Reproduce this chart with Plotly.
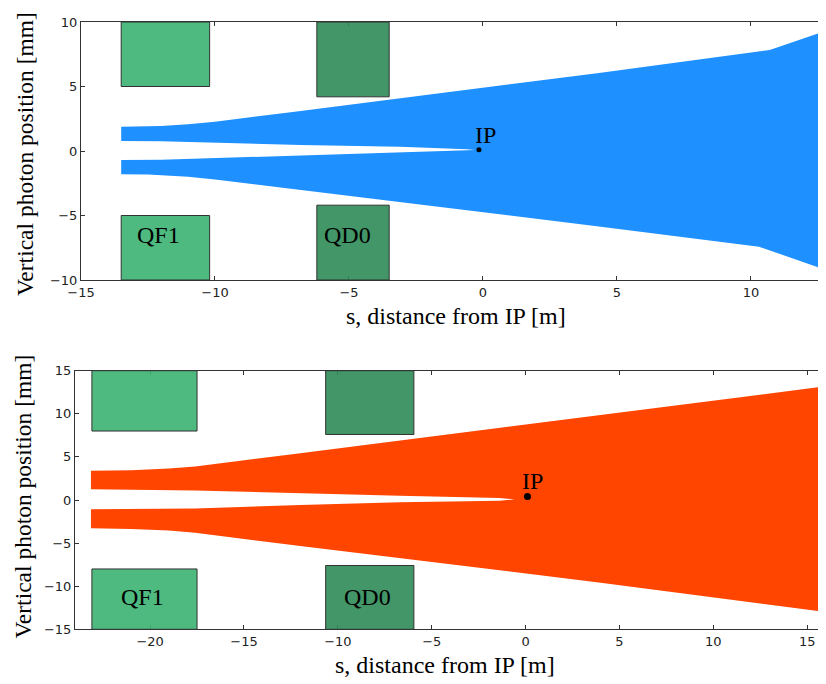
import plotly.graph_objects as go

# ---------------- data: top panel (blue) ----------------
top_s_upper_outer = [-13.5, -12.5, -12.0, -11.0, -10.0, -6.8, 0.0, 4.4, 10.7, 12.8]
top_y_upper_outer = [1.88, 1.90, 1.94, 2.08, 2.27, 3.10, 4.90, 6.07, 7.83, 9.33]
top_s_lower_outer = [-13.5, -12.5, -12.0, -11.0, -10.0, -6.8, 0.0, 4.4, 10.3, 12.8]
top_y_lower_outer = [-1.81, -1.83, -1.86, -2.00, -2.20, -2.97, -4.74, -5.87, -7.42, -9.22]
top_s_inner = [-13.5, -12.0, -10.0, -6.8, -3.1, -0.6, -0.3]
top_y_upper_inner = [0.78, 0.76, 0.68, 0.47, 0.33, 0.13, 0.07]
top_y_lower_inner = [-0.70, -0.68, -0.55, -0.33, -0.13, 0.02, 0.06]

# ---------------- data: bottom panel (red) ----------------
bot_s_outer = [-23.15, -21.0, -19.0, -17.6, -12.0, 4.0, 16.0]
bot_y_upper_outer = [3.40, 3.45, 3.65, 3.90, 5.41, 9.86, 13.2]
bot_y_lower_outer = [-3.29, -3.35, -3.55, -3.79, -5.34, -9.59, -13.0]
bot_s_inner = [-23.15, -17.6, -12.0, -6.7, -1.4, -0.57]
bot_y_upper_inner = [1.24, 1.10, 0.77, 0.50, 0.23, 0.08]
bot_y_lower_inner = [-1.08, -1.00, -0.58, -0.27, -0.08, 0.08]

# magnets: (name, s_start, s_end, aperture) per panel
top_magnets = [("QF1", -13.5, -10.2, 5.0), ("QD0", -6.2, -3.5, 4.2)]
bot_magnets = [("QF1", -23.1, -17.5, 8.0), ("QD0", -10.65, -5.95, 7.6)]
top_label_pos = [(-12.1, -6.5), (-5.05, -6.5)]
bot_label_pos = [(-20.4, -11.2), (-8.4, -11.2)]
top_ip = (-0.15, 0.10)
bot_ip = (0.10, 0.40)
top_ip_text = (0.1, 1.25)
bot_ip_text = (0.35, 2.25)

top_xrange = [-15, 12.8]
top_yrange = [-10, 10]
bot_xrange = [-24, 16]
bot_yrange = [-15, 15]
top_xticks = [-15, -10, -5, 0, 5, 10]
top_yticks = [-10, -5, 0, 5, 10]
bot_xticks = [-20, -15, -10, -5, 0, 5, 10, 15]
bot_yticks = [-15, -10, -5, 0, 5, 10, 15]

magnet_colors = {"QF1": "rgba(60,179,113,0.9)", "QD0": "rgba(46,139,87,0.9)"}

# the page body adds an 8px offset; size the figure so it fills the 826x684 window
OFF = 8
W, H = 826 - OFF, 684 - OFF


def px(x):
    return (x - OFF) / W


def py(y):
    return 1 - (y - OFF) / H


def polygon(s_uo, y_uo, s_lo, y_lo, s_in, y_ui, y_li):
    xs = list(s_uo) + list(reversed(s_lo)) + list(s_in) + list(reversed(s_in))
    ys = list(y_uo) + list(reversed(y_lo)) + list(y_li) + list(reversed(y_ui))
    return xs, ys


fig = go.Figure()

tx, ty = polygon(top_s_upper_outer, top_y_upper_outer, top_s_lower_outer,
                 top_y_lower_outer, top_s_inner, top_y_upper_inner, top_y_lower_inner)
fig.add_trace(go.Scatter(x=tx, y=ty, fill="toself", fillcolor="#1E90FF",
                         mode="lines", line=dict(width=0, color="#1E90FF"),
                         xaxis="x", yaxis="y", showlegend=False, hoverinfo="skip"))
bx, by = polygon(bot_s_outer, bot_y_upper_outer, bot_s_outer,
                 bot_y_lower_outer, bot_s_inner, bot_y_upper_inner, bot_y_lower_inner)
fig.add_trace(go.Scatter(x=bx, y=by, fill="toself", fillcolor="#FF4500",
                         mode="lines", line=dict(width=0, color="#FF4500"),
                         xaxis="x2", yaxis="y2", showlegend=False, hoverinfo="skip"))

fig.add_trace(go.Scatter(x=[top_ip[0]], y=[top_ip[1]], mode="markers",
                         marker=dict(color="black", size=5), xaxis="x", yaxis="y",
                         showlegend=False))
fig.add_trace(go.Scatter(x=[bot_ip[0]], y=[bot_ip[1]], mode="markers",
                         marker=dict(color="black", size=7), xaxis="x2", yaxis="y2",
                         showlegend=False))

shapes = []
annotations = []
serif = dict(family="Liberation Serif", size=24, color="black")
ctr = dict(xanchor="center", yanchor="middle", showarrow=False, font=serif)
ytitle = dict(xanchor="center", yanchor="middle", showarrow=False,
              font=dict(family="Liberation Serif", size=23.5, color="black"))

for mags, labels, yr, xr, yr_ref in [(top_magnets, top_label_pos, top_yrange, "x", "y"),
                                     (bot_magnets, bot_label_pos, bot_yrange, "x2", "y2")]:
    for (name, s0, s1, ap), (lx, ly) in zip(mags, labels):
        for (y0, y1) in [(ap, yr[1]), (yr[0], -ap)]:
            shapes.append(dict(type="rect", xref=xr, yref=yr_ref, x0=s0, x1=s1, y0=y0, y1=y1,
                               fillcolor=magnet_colors[name],
                               line=dict(color="#333333", width=1), layer="above"))
        annotations.append(dict(x=lx, y=ly, xref=xr, yref=yr_ref, text=name, **ctr))

annotations.append(dict(x=top_ip_text[0], y=top_ip_text[1], xref="x", yref="y", text="IP", **ctr))
annotations.append(dict(x=bot_ip_text[0], y=bot_ip_text[1], xref="x2", yref="y2", text="IP", **ctr))

# axis titles (paper coordinates)
annotations += [
    dict(x=px(25), y=py(154), xref="paper", yref="paper", textangle=-90,
         text="Vertical photon position [mm]", **ytitle),
    dict(x=px(22.5), y=py(497), xref="paper", yref="paper", textangle=-90,
         text="Vertical photon position [mm]", **ytitle),
    dict(x=px(456), y=py(316), xref="paper", yref="paper",
         text="s, distance from IP [m]", **ctr),
    dict(x=px(445), y=py(665), xref="paper", yref="paper",
         text="s, distance from IP [m]", **ctr),
]

tickfont = dict(family="DejaVu Sans", size=13, color="#222222")
axis_common = dict(showline=True, linecolor="#333333", linewidth=1, ticks="inside",
                   ticklen=4, tickwidth=1, tickcolor="#333333", showgrid=False,
                   zeroline=False, tickfont=tickfont, automargin=False)

fig.update_layout(
    width=W, height=H, autosize=False,
    margin=dict(l=0, r=0, t=0, b=0, pad=0, autoexpand=False),
    paper_bgcolor="white", plot_bgcolor="white",
    shapes=shapes, annotations=annotations,
    xaxis=dict(domain=[px(81), 1], range=top_xrange, tickvals=top_xticks,
               anchor="y", mirror="allticks", **axis_common),
    yaxis=dict(domain=[py(280), py(22)], range=top_yrange, tickvals=top_yticks,
               anchor="x", mirror=False, **axis_common),
    xaxis2=dict(domain=[px(75), 1], range=bot_xrange, tickvals=bot_xticks,
                anchor="y2", mirror="allticks", **axis_common),
    yaxis2=dict(domain=[py(629.3), py(370.7)], range=bot_yrange, tickvals=bot_yticks,
                anchor="x2", mirror="allticks", **axis_common),
)

fig.write_html("out.html")
